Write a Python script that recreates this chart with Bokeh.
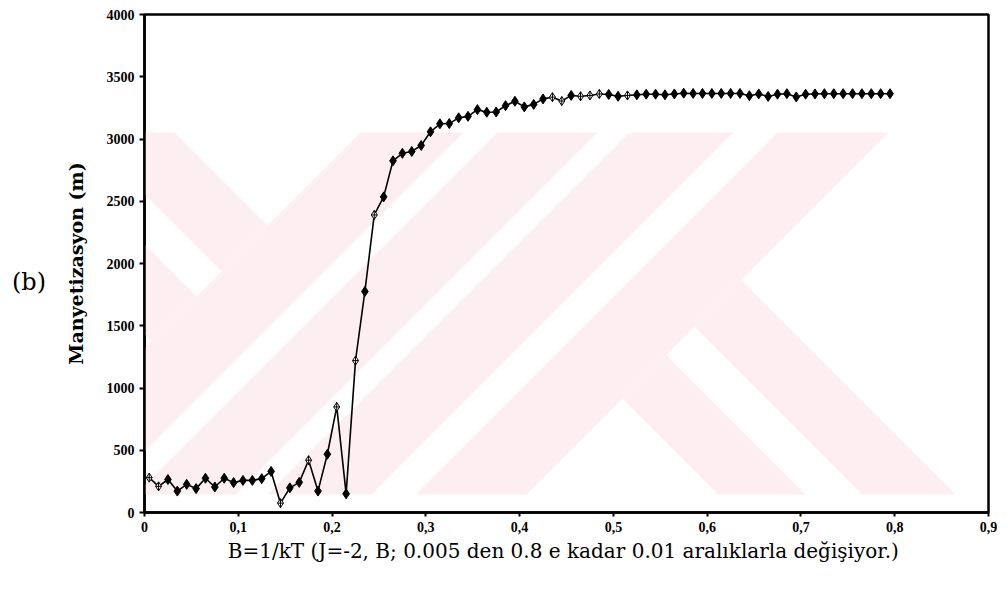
from bokeh.plotting import figure
from bokeh.models import Range1d, FixedTicker, Div
from bokeh.layouts import row
from bokeh.embed import file_html
from bokeh.resources import INLINE

# ---------------- data ----------------
beta = [0.005, 0.015, 0.025, 0.035, 0.045, 0.055, 0.065, 0.075, 0.085, 0.095,
        0.105, 0.115, 0.125, 0.135, 0.145, 0.155, 0.165, 0.175, 0.185, 0.195,
        0.205, 0.215, 0.225, 0.235, 0.245, 0.255, 0.265, 0.275, 0.285, 0.295,
        0.305, 0.315, 0.325, 0.335, 0.345, 0.355, 0.365, 0.375, 0.385, 0.395,
        0.405, 0.415, 0.425, 0.435, 0.445, 0.455, 0.465, 0.475, 0.485, 0.495,
        0.505, 0.515, 0.525, 0.535, 0.545, 0.555, 0.565, 0.575, 0.585, 0.595,
        0.605, 0.615, 0.625, 0.635, 0.645, 0.655, 0.665, 0.675, 0.685, 0.695,
        0.705, 0.715, 0.725, 0.735, 0.745, 0.755, 0.765, 0.775, 0.785, 0.795]

magnetization = [280, 210, 265, 172, 226, 192, 275, 205, 275, 240,
                 258, 258, 272, 330, 75, 198, 242, 420, 172, 468,
                 848, 150, 1220, 1775, 2390, 2535, 2825, 2885, 2900, 2948,
                 3058, 3122, 3124, 3170, 3182, 3236, 3215, 3217, 3268, 3303,
                 3258, 3278, 3322, 3336, 3305, 3350, 3343, 3350, 3362, 3358,
                 3343, 3350, 3355, 3360, 3360, 3355, 3362, 3368, 3366, 3366,
                 3366, 3366, 3366, 3366, 3348, 3362, 3342, 3360, 3364, 3338,
                 3360, 3362, 3364, 3364, 3364, 3364, 3364, 3364, 3364, 3364]

x_ticks = [0, 0.1, 0.2, 0.3, 0.4, 0.5, 0.6, 0.7, 0.8, 0.9]
x_tick_labels = ["0", "0,1", "0,2", "0,3", "0,4", "0,5", "0,6", "0,7", "0,8", "0,9"]
y_ticks = [0, 500, 1000, 1500, 2000, 2500, 3000, 3500, 4000]

x_title = "B=1/kT  (J=-2, B; 0.005 den 0.8 e kadar 0.01 aralıklarla değişiyor.)"
y_title = "Manyetizasyon (m)"
panel_tag = "(b)"

# style: which markers are drawn hollow
HOLLOW = {0, 1, 14, 17, 20, 22, 24, 43, 44, 46, 47, 48, 51}

# ---------------- layout geometry ----------------
W, H = 1008, 590
TAG_W = 44
PW = W - TAG_W
L, R, T, B = 144 - TAG_W, 988 - TAG_W, 14, 512   # frame inside the figure

p = figure(width=PW, height=H, x_range=Range1d(0, 0.9), y_range=Range1d(0, 4000),
           output_backend="svg", toolbar_location=None,
           min_border_left=L, min_border_right=PW - R, min_border_top=T,
           min_border_bottom=H - B, margin=(0, 0, 0, 0))
p.background_fill_color = "white"
p.border_fill_color = "white"
p.grid.visible = False
p.outline_line_color = "black"
p.outline_line_width = 2.5

# --- pale watermark (background decoration, page-pixel geometry -> data) ---
def to_data(pts):
    xs = [(px - TAG_W - L) / (R - L) * 0.9 for px, py in pts]
    ys = [(B - py) / (B - T) * 4000 for px, py in pts]
    return xs, ys

Y0, Y1 = 132, 494
polys = []
for a, b in [(492, 595), (629, 729), (761, 865), (909, 1020)]:
    polys.append([(a - Y0, Y0), (b - Y0, Y0), (b - Y1, Y1), (a - Y1, Y1)])
for c, d in [(-50, 42), (-190, -100)]:
    polys.append([(c + Y0, Y0), (d + Y0, Y0), ((492 + d) / 2, (492 - d) / 2),
                  ((492 + c) / 2, (492 - c) / 2)])
for c, d in [(224, 311), (368, 461)]:
    polys.append([((1020 + c) / 2, (1020 - c) / 2), ((1020 + d) / 2, (1020 - d) / 2),
                  (d + Y1, Y1), (c + Y1, Y1)])
wx, wy = [], []
for poly in polys:
    xs, ys = to_data(poly)
    wx.append(xs)
    wy.append(ys)
p.patches(wx, wy, fill_color="#fdeef1", line_color=None, level="underlay")

# --- data ---
p.line(beta, magnetization, line_color="black", line_width=1.6)
fx = [v for i, v in enumerate(beta) if i not in HOLLOW]
fy = [v for i, v in enumerate(magnetization) if i not in HOLLOW]
hx = [v for i, v in enumerate(beta) if i in HOLLOW]
hy = [v for i, v in enumerate(magnetization) if i in HOLLOW]
p.scatter(fx, fy, marker="diamond", size=10, fill_color="black", line_color="black", line_width=1)
p.scatter(hx, hy, marker="diamond_cross", size=9, fill_color="white", line_color="black", line_width=1)

# --- axes ---
xa = p.xaxis[0]
xa.ticker = FixedTicker(ticks=x_ticks)
xa.major_label_overrides = {t: s for t, s in zip(x_ticks, x_tick_labels)}
xa.axis_label = x_title
ya = p.yaxis[0]
ya.ticker = FixedTicker(ticks=y_ticks)
ya.axis_label = y_title

for ax in (xa, ya):
    ax.axis_line_color = "black"
    ax.axis_line_width = 2.5
    ax.major_tick_line_color = "black"
    ax.major_tick_line_width = 2
    ax.major_tick_in = 0
    ax.minor_tick_line_color = None
    ax.major_label_text_font = "Liberation Serif"
    ax.major_label_text_font_style = "bold"
    ax.major_label_text_font_size = "14px"
    ax.major_label_text_color = "black"
    ax.axis_label_text_color = "black"
    ax.axis_label_text_font = "DejaVu Serif"

xa.major_tick_out = 4
xa.major_label_standoff = 5
xa.axis_label_text_font_size = "20px"
xa.axis_label_text_font_style = "normal"
xa.axis_label_standoff = 4

ya.major_tick_out = 5
ya.major_label_standoff = 5
ya.axis_label_text_font_size = "19px"
ya.axis_label_text_font_style = "bold"
ya.axis_label_standoff = 17

tag = Div(text=('<div style="margin-top:265px;padding-left:12px;'
                'font-family:\'DejaVu Serif\';font-size:24px;color:black;'
                'text-align:left;">%s</div>' % panel_tag),
          width=TAG_W, height=H, margin=(0, 0, 0, 0))

layout = row(tag, p, spacing=0, margin=(0, 0, 0, 0))
open("out.html", "w").write(file_html(layout, INLINE))
